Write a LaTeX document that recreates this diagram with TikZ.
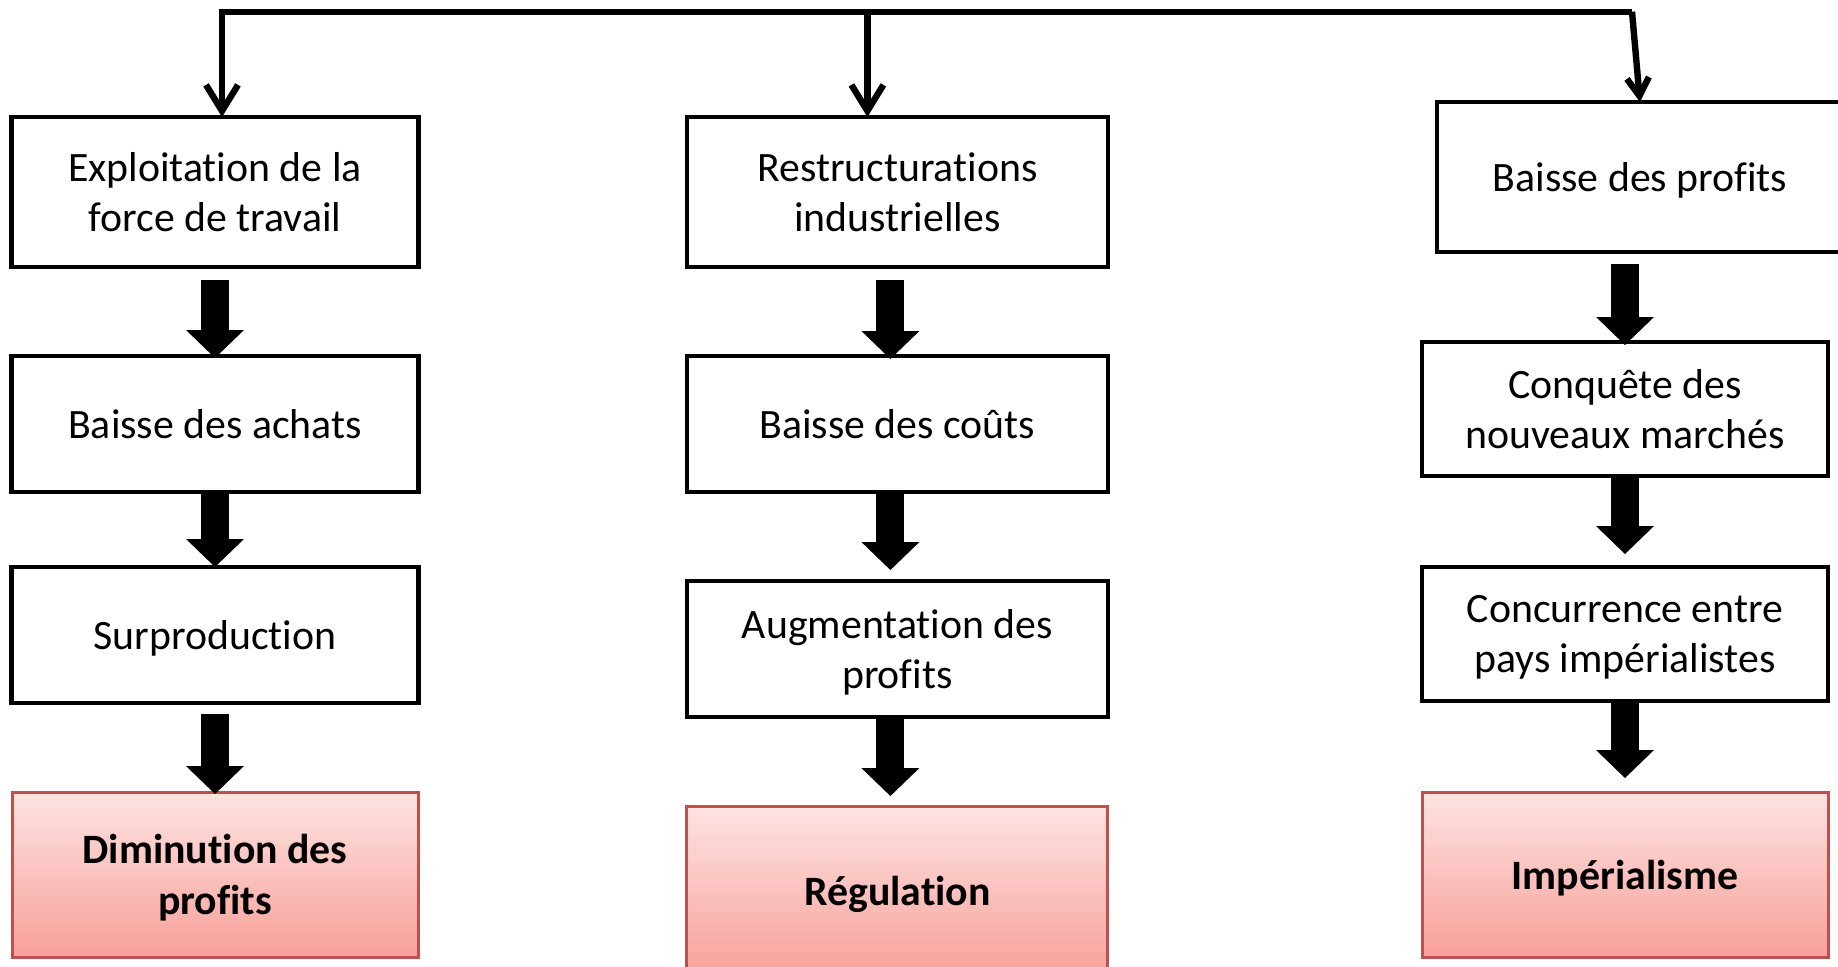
\documentclass[tikz,border=0pt]{standalone}
\usepackage{fontspec}
\setmainfont{Carlito}[Ligatures=CommonOff]
\usetikzlibrary{arrows.meta,calc}
\definecolor{pinktop}{RGB}{252,227,225}
\definecolor{pinkbot}{RGB}{249,160,154}
\definecolor{pinkedge}{RGB}{192,80,77}
\begin{document}
\begin{tikzpicture}[x=0.5pt,y=-0.5pt,
  txt/.style={font=\fontsize{20.9pt}{25.2pt}\selectfont, text depth=0pt},
  stepbox/.style={txt, draw=black, line width=2.2pt, fill=white, align=center,
    inner sep=0pt, outer sep=0pt},
  endbox/.style={txt, draw=pinkedge, line width=1.5pt, top color=pinktop,
    bottom color=pinkbot, align=center, inner sep=0pt, outer sep=0pt,
    font=\fontsize{20.9pt}{25.2pt}\selectfont\bfseries},
  blockarrow/.style={line width=14pt,
    -{Triangle[length=14pt,width=29pt,line width=0pt]}},
  feed/.style={line width=3.2pt, line join=miter},
  bigbarb/.style={-{Straight Barb[length=13pt,width=16pt]}},
  smallbarb/.style={-{Straight Barb[length=9pt,width=11pt]}}]
\useasboundingbox (0,0) rectangle (1838,966);
\clip (0,0) rectangle (1838,966);

% left column
\node[stepbox, minimum width=203.5pt, minimum height=75pt] (e1) at (215,192)
  {Exploitation de la\\force de travail};
\node[stepbox, minimum width=203.5pt, minimum height=68pt] (e2) at (215,424)
  {Baisse des achats};
\node[stepbox, minimum width=203.5pt, minimum height=68pt] (e3) at (215,635)
  {Surproduction};
\node[endbox, minimum width=203pt, minimum height=82.5pt] (e4) at (215,874.5)
  {Diminution des\\profits};

% middle column
\node[stepbox, minimum width=210.5pt, minimum height=75pt] (r1) at (897.4,192)
  {Restructurations\\industrielles};
\node[stepbox, minimum width=210.5pt, minimum height=68pt] (r2) at (897.4,424)
  {Baisse des coûts};
\node[stepbox, minimum width=210.5pt, minimum height=68pt] (r3) at (897.4,649)
  {Augmentation des\\profits};
\node[endbox, minimum width=210.5pt, minimum height=85pt] (r4) at (897.4,891)
  {Régulation};

% right column
\node[stepbox, minimum width=203pt, minimum height=75pt] (b1) at (1640,177)
  {Baisse des profits};
\node[stepbox, minimum width=203pt, minimum height=67pt] (b2) at (1625,409)
  {Conquête des\\nouveaux marchés};
\node[stepbox, minimum width=203pt, minimum height=67pt] (b3) at (1625,634)
  {Concurrence entre\\pays impérialistes};
\node[endbox, minimum width=203pt, minimum height=82.5pt] (b4) at (1625,874.5)
  {Impérialisme};

% feed line along the top
\coordinate (hubL) at (222,11.7);
\coordinate (hubM) at (867.4,11.7);
\coordinate (hubR) at (1632,11.7);
\draw[feed, bigbarb] (hubR) -- (hubL) -- (hubL |- e1.north);
\draw[feed, bigbarb] (hubM) -- (hubM |- r1.north);
\draw[feed, smallbarb] (hubR) -- (b1.north);

% block arrows, left column
\draw[blockarrow] ($(e1.south)+(0,13)$) -- ($(e2.north)+(0,2)$);
\draw[blockarrow] (e2.south) -- (e3.north);
\draw[blockarrow] ($(e3.south)+(0,11)$) -- ($(e4.north)+(0,2)$);

% block arrows, middle column
\draw[blockarrow] ($(r1.south)+(-7,13)$) -- ($(r2.north)+(-7,3)$);
\draw[blockarrow] ($(r2.south)+(-7,0)$) -- ($(r3.north)+(-7,-11)$);
\draw[blockarrow] ($(r3.south)+(-7,0)$) -- ($(r4.north)+(-7,-10)$);

% block arrows, right column
\draw[blockarrow] ($(b2.north)+(0,-78)$) -- ($(b2.north)+(0,3)$);
\draw[blockarrow] (b2.south) -- ($(b3.north)+(0,-13)$);
\draw[blockarrow] (b3.south) -- ($(b4.north)+(0,-14)$);
\end{tikzpicture}
\end{document}
